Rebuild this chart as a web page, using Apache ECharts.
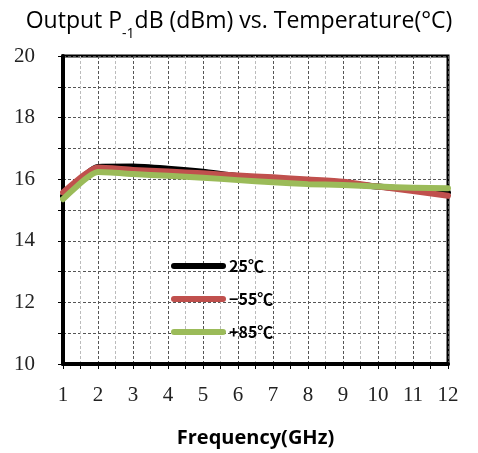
<!DOCTYPE html>
<html><head><meta charset="utf-8">
<script src="https://cdn.jsdelivr.net/npm/echarts@6/dist/echarts.min.js"></script>
<style>html,body{margin:0;padding:0;background:#fff}#c{width:478px;height:453px}</style>
</head><body><div id="c"></div>
<script>
const freq = [1, 2, 3, 4, 5, 6, 7, 8, 9, 10, 11, 12];
const t25 = [15.45, 16.40, 16.41, 16.34, 16.24, 16.10, 16.02, 15.93, 15.87, 15.76, 15.67, 15.57];
const tm55 = [15.57, 16.38, 16.30, 16.25, 16.19, 16.12, 16.06, 15.99, 15.92, 15.76, 15.62, 15.46];
const tp85 = [15.35, 16.23, 16.17, 16.11, 16.05, 15.97, 15.90, 15.84, 15.81, 15.76, 15.72, 15.71];
const names = ['25℃', '−55℃', '+85℃'];
const colors = ['#000000', '#c0504d', '#9bbb59'];
const xTicks = [1, 12, 1];
const yTicks = [10, 20, 2];

const chart = echarts.init(document.getElementById('c'));
const mk = (d) => d.map((v, i) => [freq[i], v]);
const serif = 'Liberation Serif';
chart.setOption({
  animation: false,
  title: {
    text: '{a|Output P}{s|-1}{a|dB (dBm) vs. Temperature(°C)}',
    left: 'center', top: 5,
    textStyle: {
      fontWeight: 'normal',
      rich: {
        a: { fontFamily: 'Open Sans', fontWeight: 'normal', fontSize: 23, color: '#000', verticalAlign: 'top', lineHeight: 30 },
        s: { fontFamily: 'Open Sans', fontWeight: 'normal', fontSize: 14, color: '#000', verticalAlign: 'middle', lineHeight: 48 }
      }
    }
  },
  legend: {
    orient: 'vertical', left: 166, top: 253,
    itemWidth: 55, itemHeight: 6, itemGap: 17,
    icon: 'path://M3,0H52A3,3,0,0,1,52,6H3A3,3,0,0,1,3,0Z',
    data: names,
    textStyle: { fontFamily: 'Noto Sans CJK SC', fontWeight: 'bold', fontSize: 16, color: '#000', padding: [6, 0, 0, -2] }
  },
  grid: { left: 63, right: 30, top: 56, bottom: 87, show: true, borderColor: '#000', borderWidth: 3 },
  xAxis: {
    type: 'value', min: xTicks[0], max: xTicks[1], interval: xTicks[2],
    name: 'Frequency(GHz)', nameLocation: 'middle', nameGap: 64,
    nameTextStyle: { fontFamily: 'Open Sans', fontWeight: 'bold', fontSize: 20, color: '#000' },
    axisLine: { onZero: false, lineStyle: { color: '#000', width: 4 } },
    axisTick: { show: true, length: 5, lineStyle: { color: '#000', width: 1 } },
    minorTick: { show: true, splitNumber: 2, length: 5, lineStyle: { color: '#000', width: 1 } },
    axisLabel: { fontFamily: serif, fontSize: 21, color: '#222', margin: 21 },
    splitLine: { show: true, lineStyle: { color: '#555', type: [3, 2], width: 1 } },
    minorSplitLine: { show: true, lineStyle: { color: '#bbb', type: [3, 2], width: 1 } }
  },
  yAxis: {
    type: 'value', min: yTicks[0], max: yTicks[1], interval: yTicks[2],
    axisLine: { show: true, onZero: false, lineStyle: { color: '#000', width: 4 } },
    axisTick: { show: true, length: 5, lineStyle: { color: '#000', width: 1 } },
    minorTick: { show: true, splitNumber: 2, length: 5, lineStyle: { color: '#000', width: 1 } },
    axisLabel: { fontFamily: serif, fontSize: 21, color: '#222', margin: 28 },
    splitLine: { show: true, lineStyle: { color: '#555', type: [3, 2], width: 1 } },
    minorSplitLine: { show: true, lineStyle: { color: '#555', type: [3, 2], width: 1 } }
  },
  series: [t25, tm55, tp85].map((d, i) => ({
    name: names[i], type: 'line', data: mk(d), showSymbol: false, symbol: 'none',
    smooth: 0.2,
    color: colors[i],
    itemStyle: { color: colors[i] },
    lineStyle: { color: colors[i], width: 6, cap: 'round', join: 'round' }
  }))
});
</script></body></html>
